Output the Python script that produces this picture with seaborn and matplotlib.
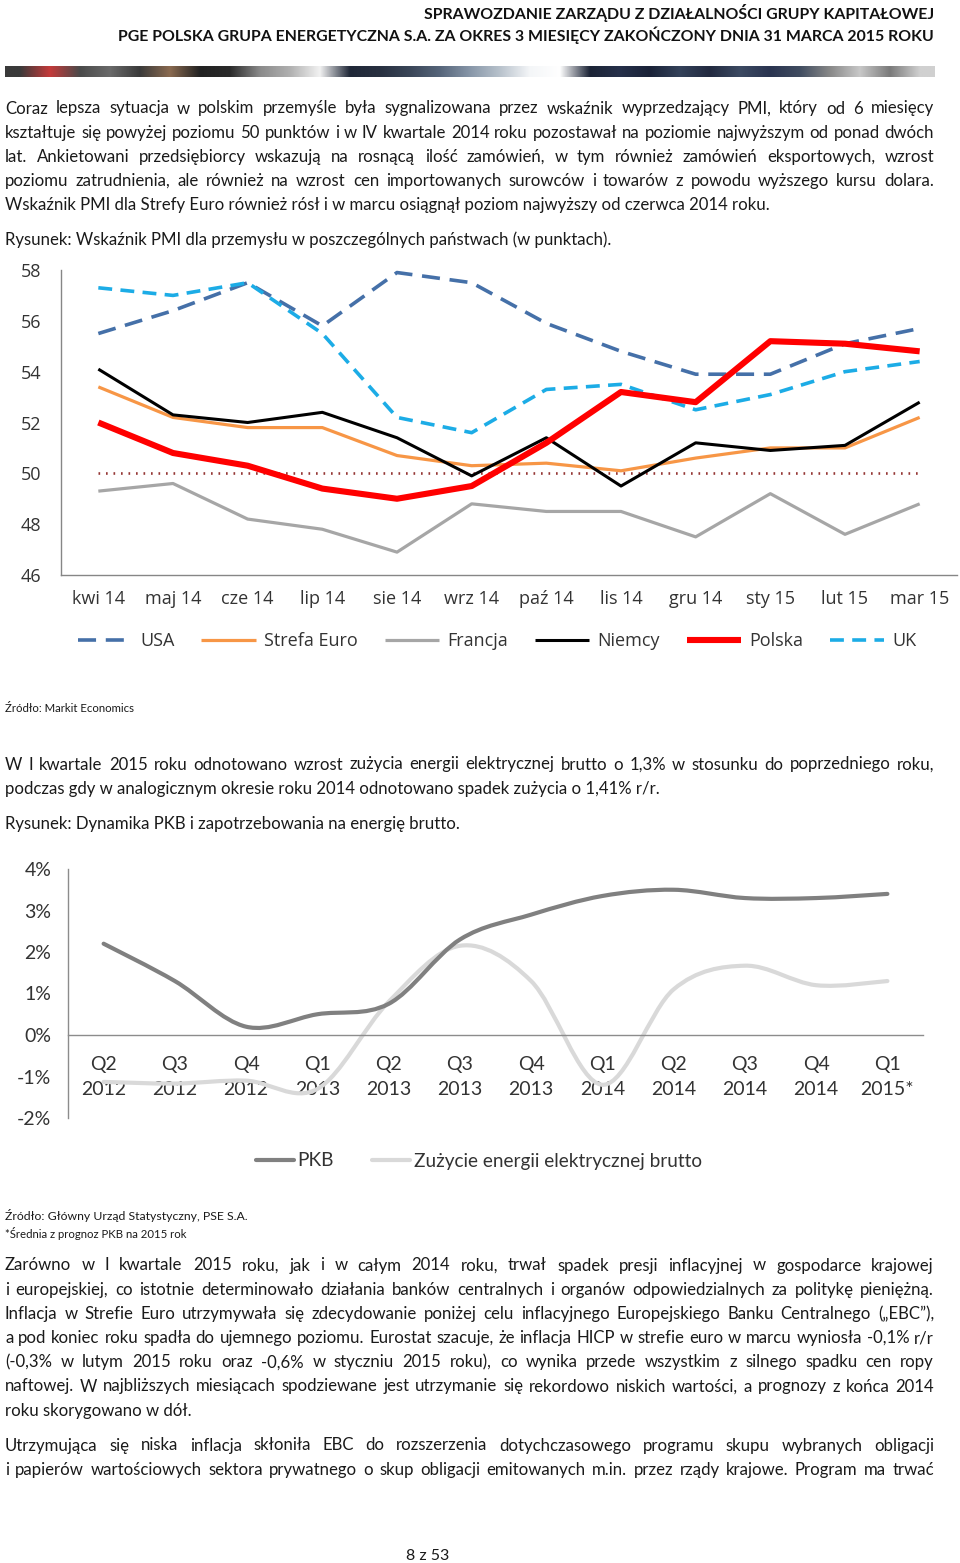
import numpy as np
import pandas as pd
import matplotlib
matplotlib.use('Agg')
import matplotlib.pyplot as plt
import seaborn as sns
from matplotlib.path import Path
from matplotlib.patches import PathPatch
from matplotlib.lines import Line2D
from matplotlib import font_manager
from matplotlib.colors import to_rgb

W, H = 960, 1563

# --- chart 1: PMI data ---
months = ['kwi 14', 'maj 14', 'cze 14', 'lip 14', 'sie 14', 'wrz 14',
          'paź 14', 'lis 14', 'gru 14', 'sty 15', 'lut 15', 'mar 15']
pmi_usa = [55.5, 56.4, 57.5, 55.8, 57.9, 57.5, 55.9, 54.8, 53.9, 53.9, 55.1, 55.7]
pmi_euro = [53.4, 52.2, 51.8, 51.8, 50.7, 50.3, 50.4, 50.1, 50.6, 51.0, 51.0, 52.2]
pmi_francja = [49.3, 49.6, 48.2, 47.8, 46.9, 48.8, 48.5, 48.5, 47.5, 49.2, 47.6, 48.8]
pmi_niemcy = [54.1, 52.3, 52.0, 52.4, 51.4, 49.9, 51.4, 49.5, 51.2, 50.9, 51.1, 52.8]
pmi_polska = [52.0, 50.8, 50.3, 49.4, 49.0, 49.5, 51.2, 53.2, 52.8, 55.2, 55.1, 54.8]
pmi_uk = [57.3, 57.0, 57.5, 55.5, 52.2, 51.6, 53.3, 53.5, 52.5, 53.1, 54.0, 54.4]
pmi_threshold = 50
pmi_yticks = [46, 48, 50, 52, 54, 56, 58]

# --- chart 2: GDP and electricity demand ---
quarters = ['Q2\n2012', 'Q3\n2012', 'Q4\n2012', 'Q1\n2013', 'Q2\n2013', 'Q3\n2013',
            'Q4\n2013', 'Q1\n2014', 'Q2\n2014', 'Q3\n2014', 'Q4\n2014', 'Q1\n2015*']
pkb = [2.2, 1.3, 0.2, 0.5, 0.75, 2.3, 2.9, 3.35, 3.5, 3.3, 3.3, 3.4]
energia = [-1.13, -1.17, -1.1, -1.3, 0.8, 2.15, 1.3, -1.2, 1.1, 1.67, 1.2, 1.3]
pct_ticks = [-2, -1, 0, 1, 2, 3, 4]

# --- page text ---
header_lines = ['SPRAWOZDANIE ZARZĄDU Z DZIAŁALNOŚCI GRUPY KAPITAŁOWEJ',
                'PGE POLSKA GRUPA ENERGETYCZNA S.A. ZA OKRES 3 MIESIĘCY ZAKOŃCZONY DNIA 31 MARCA 2015 ROKU']
para1 = ['Coraz lepsza sytuacja w polskim przemyśle była sygnalizowana przez wskaźnik wyprzedzający PMI, który od 6 miesięcy',
         'kształtuje się powyżej poziomu 50 punktów i w IV kwartale 2014 roku pozostawał na poziomie najwyższym od ponad dwóch',
         'lat. Ankietowani przedsiębiorcy wskazują na rosnącą ilość zamówień, w tym również zamówień eksportowych, wzrost',
         'poziomu zatrudnienia, ale również na wzrost cen importowanych surowców i towarów z powodu wyższego kursu dolara.',
         'Wskaźnik PMI dla Strefy Euro również rósł i w marcu osiągnął poziom najwyższy od czerwca 2014 roku.']
caption1 = 'Rysunek: Wskaźnik PMI dla przemysłu w poszczególnych państwach (w punktach).'
source1 = 'Źródło: Markit Economics'
para2 = ['W I kwartale 2015 roku odnotowano wzrost zużycia energii elektrycznej brutto o 1,3% w stosunku do poprzedniego roku,',
         'podczas gdy w analogicznym okresie roku 2014 odnotowano spadek zużycia o 1,41% r/r.']
caption2 = 'Rysunek: Dynamika PKB i zapotrzebowania na energię brutto.'
source2 = 'Źródło: Główny Urząd Statystyczny, PSE S.A.'
note2 = '*Średnia z prognoz PKB na 2015 rok'
para3 = ['Zarówno w I kwartale 2015 roku, jak i w całym 2014 roku, trwał spadek presji inflacyjnej w gospodarce krajowej',
         'i europejskiej, co istotnie determinowało działania banków centralnych i organów odpowiedzialnych za politykę pieniężną.',
         'Inflacja w Strefie Euro utrzymywała się zdecydowanie poniżej celu inflacyjnego Europejskiego Banku Centralnego („EBC”),',
         'a pod koniec roku spadła do ujemnego poziomu. Eurostat szacuje, że inflacja HICP w strefie euro w marcu wyniosła -0,1% r/r',
         '(-0,3% w lutym 2015 roku oraz -0,6% w styczniu 2015 roku), co wynika przede wszystkim z silnego spadku cen ropy',
         'naftowej. W najbliższych miesiącach spodziewane jest utrzymanie się rekordowo niskich wartości, a prognozy z końca 2014',
         'roku skorygowano w dół.']
para4 = ['Utrzymująca się niska inflacja skłoniła EBC do rozszerzenia dotychczasowego programu skupu wybranych obligacji',
         'i papierów wartościowych sektora prywatnego o skup obligacji emitowanych m.in. przez rządy krajowe. Program ma trwać']
page_no = '8 z 53'

sns.set_style('white')
plt.rcParams['font.family'] = ['Lato', 'DejaVu Sans']
plt.rcParams['lines.scale_dashes'] = False

installed = {f.name for f in font_manager.fontManager.ttflist}
head_font = ['Liberation Sans Narrow', 'Lato', 'DejaVu Sans'] if 'Liberation Sans Narrow' in installed else ['Lato', 'DejaVu Sans']
chart_font = ['Open Sans', 'DejaVu Sans']

fig = plt.figure(figsize=(W / 100, H / 100), dpi=100)
fig.patch.set_facecolor('white')
renderer = fig.canvas.get_renderer()
TXT = '#1a1a1a'


def fy(y):
    return 1 - y / H


def fit_size(text, target, base=10, **kw):
    t = fig.text(0, 0, text, fontsize=base, **kw)
    w = t.get_window_extent(renderer).width
    t.remove()
    return base * target / w


def put_line(text, y, size, justify=False, x0=5, x1=934, **kw):
    if not justify:
        fig.text(x0 / W, fy(y), text, fontsize=size, ha='left', va='center_baseline', color=TXT, **kw)
        return
    words = text.split(' ')
    arts = [fig.text(0, fy(y), w, fontsize=size, ha='left', va='center_baseline', color=TXT, **kw)
            for w in words]
    widths = [a.get_window_extent(renderer).width for a in arts]
    gap = (x1 - x0 - sum(widths)) / (len(words) - 1)
    x = x0
    for a, w in zip(arts, widths):
        a.set_x(x / W)
        x += w + gap


def put_paragraph(lines, y0, size, step=24.2):
    for i, line in enumerate(lines):
        put_line(line, y0 + i * step, size, justify=(i < len(lines) - 1))


# header
hsize = fit_size(header_lines[1], 818, family=head_font, fontweight='bold')
for line, y in zip(header_lines, [11, 34]):
    fig.text(934 / W, fy(y), line, fontsize=hsize, family=head_font, fontweight='bold',
             ha='right', va='center_baseline', color='#111111')

# decorative banner
banner_colors = ['#3a3a3a', '#c43a3a', '#4a4a4a', '#6a6a6a', '#3a3a3a', '#8a6a50', '#222222',
                 '#2a2a2a', '#8a8a8a', '#b0b0b0', '#f2f2f2', '#202838', '#283040', '#3a4658',
                 '#56657a', '#8796a8', '#b8c2cc', '#f4f6f8', '#ffffff', '#1c2436', '#26304a',
                 '#1a2238', '#34425a', '#222a40', '#3c4a62', '#2a3450', '#404c60', '#888888',
                 '#c8c8c8', '#7a7a7a', '#d0d0d0']
axb = fig.add_axes([5 / W, fy(77), 930 / W, 11 / H])
axb.imshow(np.array([[to_rgb(c) for c in banner_colors]]), aspect='auto', interpolation='bilinear')
axb.axis('off')

body = fit_size(para1[-1], 765)
put_paragraph(para1, 107, body)
put_line(caption1, 238, body)

# --- chart 1 ---
ax1 = fig.add_axes([61 / W, fy(575), (957 - 61) / W, (575 - 270) / H])
x = np.arange(len(months))
series1 = [
    ('USA', pmi_usa, '#4570a8', 2.6, (13, 7), 3),
    ('Strefa Euro', pmi_euro, '#f79646', 2.3, None, 2),
    ('Francja', pmi_francja, '#a6a6a6', 2.3, None, 2),
    ('Niemcy', pmi_niemcy, '#000000', 2.2, None, 4),
    ('Polska', pmi_polska, '#ff0000', 4.4, None, 6),
    ('UK', pmi_uk, '#1cace6', 2.6, (10, 6), 5),
]
handles1 = []
for name, vals, color, lw, dash, z in series1:
    sns.lineplot(x=x, y=vals, ax=ax1, color=color, linewidth=lw, zorder=z, errorbar=None)
    line = ax1.lines[-1]
    line.set_solid_capstyle('butt')
    h = Line2D([], [], color=color, lw=lw, solid_capstyle='butt')
    if dash:
        line.set_dashes(dash)
        h.set_dashes(dash)
    handles1.append(h)
ref = ax1.hlines(pmi_threshold, x[0], x[-1], colors='#953735', linewidth=1.9, zorder=1)
ref.set_linestyle((0, (1.2, 4.2)))

ax1.set_xlim(-0.5, len(months) - 0.5)
ax1.set_ylim(pmi_yticks[0], pmi_yticks[-1])
ax1.set_yticks(pmi_yticks)
ax1.set_yticklabels([str(v) for v in pmi_yticks], family=chart_font)
ax1.set_xticks(np.arange(len(months) + 1) - 0.5)
ax1.set_xticklabels([])
ax1.set_xticks(x, minor=True)
ax1.set_xticklabels(months, minor=True, family=chart_font)
ax1.tick_params(axis='x', which='major', direction='out', length=5, width=1, color='#868686')
ax1.tick_params(axis='x', which='minor', length=0, pad=11, labelsize=13, labelcolor='#333333')
ax1.tick_params(axis='y', direction='out', length=5, width=1, color='#868686',
                pad=9, labelsize=13, labelcolor='#333333')
for s in ['top', 'right']:
    ax1.spines[s].set_visible(False)
for s in ['left', 'bottom']:
    ax1.spines[s].set_color('#868686')
    ax1.spines[s].set_linewidth(1)
ax1.set_xlabel('')
ax1.set_ylabel('')
ax1.patch.set_alpha(0)

fig.legend(handles1, [s[0] for s in series1], loc='center', bbox_to_anchor=(497 / W, fy(641)),
           ncol=6, frameon=False, prop={'family': chart_font, 'size': 13}, handlelength=3.0,
           handletextpad=0.45, columnspacing=1.5, labelcolor='#333333')

put_line(source1, 707, fit_size(source1, 130))

put_paragraph(para2, 763, body)
put_line(caption2, 823, body)

# --- chart 2 ---
ax2 = fig.add_axes([68 / W, fy(1118), (923 - 68) / W, (1118 - 869) / H])


def smooth_path(xs, ys):
    pts = np.column_stack([xs, ys]).astype(float)
    n = len(pts)
    verts = [pts[0]]
    codes = [Path.MOVETO]
    for i in range(n - 1):
        p0, p1, p2, p3 = pts[max(i - 1, 0)], pts[i], pts[i + 1], pts[min(i + 2, n - 1)]
        verts += [p1 + (p2 - p0) / 6, p2 - (p3 - p1) / 6, p2]
        codes += [Path.CURVE4] * 3
    return Path(verts, codes)


q = np.arange(len(quarters))
series2 = [('PKB', pkb, '#808080', 3.0, 3),
           ('Zużycie energii elektrycznej brutto', energia, '#d9d9d9', 3.0, 2)]
handles2 = []
for name, vals, color, lw, z in series2:
    ax2.add_patch(PathPatch(smooth_path(q, vals), fill=False, edgecolor=color, lw=lw,
                            zorder=z, capstyle='round'))
    handles2.append(Line2D([], [], color=color, lw=lw))

ax2.set_xlim(-0.5, len(quarters) - 0.5)
ax2.set_ylim(pct_ticks[0], pct_ticks[-1])
ax2.set_yticks(pct_ticks)
ax2.set_yticklabels([f'{v}%' for v in pct_ticks])
ax2.set_xticks(np.arange(len(quarters) + 1) - 0.5)
ax2.set_xticklabels([])
ax2.set_xticks(q, minor=True)
ax2.set_xticklabels(quarters, minor=True)
ax2.spines['bottom'].set_position(('data', 0))
ax2.tick_params(axis='x', which='major', direction='out', length=6, width=1, color='#8c8c8c')
ax2.tick_params(axis='x', which='minor', length=0, pad=15, labelsize=14, labelcolor='#333333')
ax2.tick_params(axis='y', direction='out', length=6, width=1, color='#8c8c8c',
                pad=6, labelsize=14, labelcolor='#333333')
for lab in ax2.get_xticklabels(minor=True):
    lab.set_linespacing(1.55)
for s in ['top', 'right']:
    ax2.spines[s].set_visible(False)
for s in ['left', 'bottom']:
    ax2.spines[s].set_color('#8c8c8c')
    ax2.spines[s].set_linewidth(1)
ax2.patch.set_alpha(0)

fig.legend(handles2, [s[0] for s in series2], loc='center', bbox_to_anchor=(479 / W, fy(1161)),
           ncol=2, frameon=False, fontsize=13.7, handlelength=2.0, handletextpad=0.2,
           columnspacing=2.0, labelcolor='#333333')

ssize = fit_size(source2, 242)
put_line(source2, 1215, ssize)
put_line(note2, 1232, fit_size(note2, 182))

put_paragraph(para3, 1264, body)
put_paragraph(para4 + [''], 1444, body)

fig.text(428 / W, fy(1555), page_no, fontsize=fit_size(page_no, 43), ha='center',
         va='center_baseline', color=TXT)

fig.savefig('out.png', dpi=100, facecolor='white')
